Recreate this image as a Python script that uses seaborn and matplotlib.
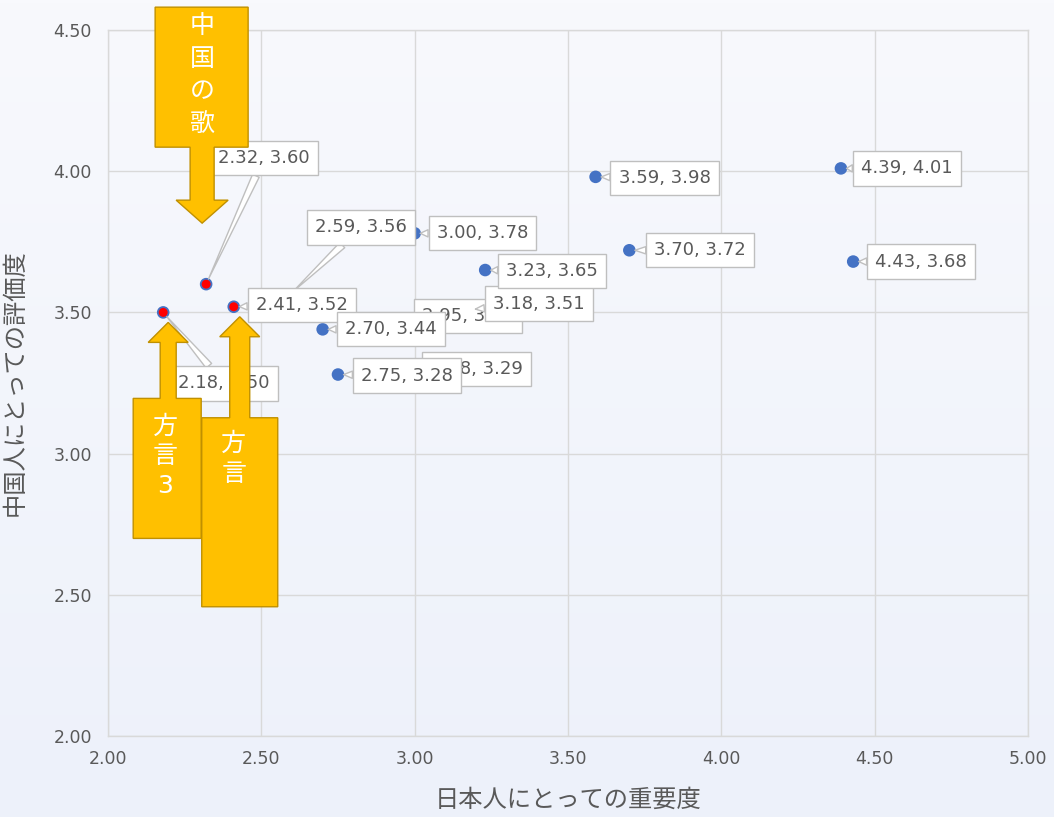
import numpy as np
import pandas as pd
import matplotlib.pyplot as plt
import matplotlib.transforms as mtransforms
from matplotlib.patches import Polygon
from matplotlib.colors import LinearSegmentedColormap
import seaborn as sns

# データ (日本人にとっての重要度, 中国人にとっての評価度)
x_vals = [2.59, 2.95, 2.98, 2.18, 2.32, 2.41, 2.70, 2.75, 3.00, 3.18, 3.23, 3.59, 3.70, 4.39, 4.43]
y_vals = [3.56, 3.47, 3.29, 3.50, 3.60, 3.52, 3.44, 3.28, 3.78, 3.51, 3.65, 3.98, 3.72, 4.01, 3.68]
groups = ["その他", "その他", "その他", "注目", "注目", "注目", "その他", "その他",
          "その他", "その他", "その他", "その他", "その他", "その他", "その他"]
x_ticks = [2.00, 2.50, 3.00, 3.50, 4.00, 4.50, 5.00]
y_ticks = [2.00, 2.50, 3.00, 3.50, 4.00, 4.50]
x_title = "日本人にとっての重要度"
y_title = "中国人にとっての評価度"

# ラベル位置 (ピクセル単位のずらし)
label_offsets = [(26, 68), (23, 5), (22, 3), (15, -71), (12, 126), (22, 2), (22, 0), (23, -1),
                 (22, 0), (23, 6), (21, -1), (23, -1), (25, 0), (20, 0), (22, 0)]

df = pd.DataFrame({"x": x_vals, "y": y_vals, "group": groups})

sns.set_theme(style="whitegrid")
plt.rcParams["font.family"] = ["DejaVu Sans", "Noto Sans CJK JP"]

fig = plt.figure(figsize=(10.54, 8.17), dpi=100)

# 背景のグラデーション
bg = fig.add_axes([0, 0, 1, 1], zorder=-10)
grad = np.linspace(0, 1, 256).reshape(-1, 1)
cmap = LinearSegmentedColormap.from_list("bg", ["#f8f9fd", "#edf1fa"])
bg.imshow(grad, aspect="auto", cmap=cmap, extent=[0, 1, 0, 1])
bg.axis("off")

ax = fig.add_axes([108 / 1054, 81 / 817, 920 / 1054, 706 / 817])
ax.set_facecolor("none")

sns.scatterplot(data=df, x="x", y="y", hue="group",
                palette={"注目": "#FF0000", "その他": "#4472C4"},
                edgecolor="#4472C4", linewidth=1.3, s=60, legend=False, ax=ax, zorder=3)

ax.set_xlim(2, 5)
ax.set_ylim(2, 4.5)
ax.set_xticks(x_ticks)
ax.set_yticks(y_ticks)
ax.set_xticklabels([f"{t:.2f}" for t in x_ticks])
ax.set_yticklabels([f"{t:.2f}" for t in y_ticks])
ax.tick_params(axis="both", length=0, labelsize=12.5, labelcolor="#595959")
ax.tick_params(axis="x", pad=10)
ax.tick_params(axis="y", pad=11.5)
ax.grid(True, color="#d9d9d9", linewidth=1)
for sp in ax.spines.values():
    sp.set_color("#d9d9d9")
    sp.set_linewidth(1)

ax.set_xlabel(x_title, fontsize=17.5, color="#595959")
ax.set_ylabel(y_title, fontsize=17.5, color="#595959")
ax.xaxis.set_label_coords(0.5, -0.074)
ax.yaxis.set_label_coords(-0.088, 0.5)

# データラベル (吹き出し)
for (xv, yv), (dx, dy) in zip(zip(x_vals, y_vals), label_offsets):
    ax.annotate(f"{xv:.2f}, {yv:.2f}", xy=(xv, yv), xytext=(dx, dy),
                textcoords="offset pixels", ha="left", va="center",
                fontsize=13, color="#595959", zorder=5,
                bbox=dict(boxstyle="square,pad=0.45", fc="white", ec="#bfbfbf", lw=1),
                arrowprops=dict(arrowstyle="wedge,tail_width=0.4", fc="white", ec="#bfbfbf",
                                lw=1, shrinkA=0, shrinkB=4))


# 矢印付きの吹き出し図形
def block_arrow(xv, yv, tip, hw, hl, sw, box, d, text, text_pos, spacing):
    tx, ty = tip
    bx0, bx1, near, far = box
    base = ty + d * hl
    verts = [(tx, ty), (tx + hw, base), (tx + sw, base), (tx + sw, near), (bx1, near),
             (bx1, far), (bx0, far), (bx0, near), (tx - sw, near), (tx - sw, base),
             (tx - hw, base)]
    trans = mtransforms.Affine2D().scale(1, -1) + mtransforms.ScaledTranslation(xv, yv, ax.transData)
    ax.add_patch(Polygon(verts, closed=True, fc="#FFC000", ec="#C09000", lw=1,
                         transform=trans, clip_on=False, zorder=8))
    ttrans = mtransforms.offset_copy(ax.transData, fig=fig, x=text_pos[0], y=-text_pos[1], units="dots")
    ax.text(xv, yv, text, transform=ttrans, ha="center", va="center", color="white",
            fontsize=18, linespacing=spacing, zorder=9, clip_on=False)


block_arrow(2.32, 3.60, (-4, -61), 26, 23, 12, (-51, 42, -137, -277), -1, "中\n国\nの\n歌", (-4, -209), 1.45)
block_arrow(2.18, 3.50, (5, 10), 20, 20, 8, (-30, 38, 86, 226), 1, "方\n言\n3", (2, 144), 1.3)
block_arrow(2.41, 3.52, (6, 10), 20, 20, 10, (-32, 44, 111, 300), 1, "方\n言", (0, 152), 1.3)

fig.savefig("out.png", dpi=100)
